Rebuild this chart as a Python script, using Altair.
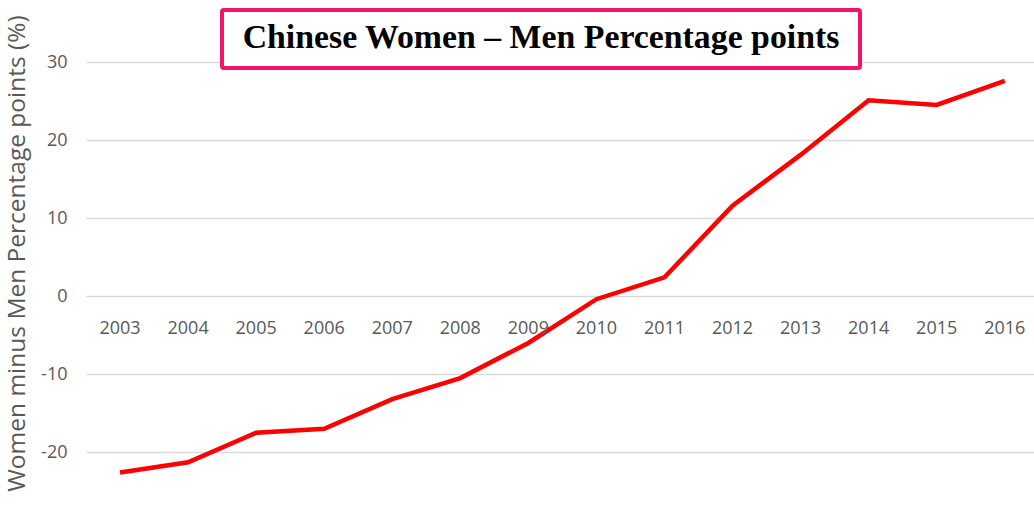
import altair as alt
import pandas as pd

years = [2003, 2004, 2005, 2006, 2007, 2008, 2009, 2010, 2011, 2012, 2013, 2014, 2015, 2016]
gap = [-22.6, -21.3, -17.5, -17.0, -13.2, -10.5, -6.0, -0.4, 2.4, 11.6, 18.1, 25.1, 24.5, 27.6]
y_ticks = [-20, -10, 0, 10, 20, 30]
title_text = "Chinese Women \u2013 Men Percentage points"
y_title = "Women minus Men Percentage points (%)"

df = pd.DataFrame({"year": years, "gap": gap})

W, H = 948, 506
xs = alt.Scale(domain=[2002.5, 2016.43], nice=False, zero=False)
ys = alt.Scale(domain=[-26.9, 37.95], nice=False, zero=False)

grey = "#595959"

yaxis = alt.Axis(values=y_ticks, title=y_title, grid=True, gridColor="#D9D9D9",
                 gridWidth=1.5, domain=False, ticks=False, labelPadding=19,
                 labelExpr="datum.value < 0 ? '-' + abs(datum.value) : '' + datum.value",
                 labelFont="Open Sans", labelFontSize=18, labelColor=grey,
                 titleFont="Open Sans", titleFontSize=24.5, titleFontWeight="normal",
                 titleColor=grey, titlePadding=11)

line = alt.Chart(df).mark_line(color="#FF0000", strokeWidth=4.5, strokeJoin="miter").encode(
    x=alt.X("year:Q", scale=xs, axis=None),
    y=alt.Y("gap:Q", scale=ys, axis=yaxis),
)

labels = alt.Chart(df).mark_text(font="Open Sans", fontSize=18, color=grey, dy=33).encode(
    x=alt.X("year:Q", scale=xs, axis=None),
    y=alt.YDatum(0, scale=ys, axis=yaxis),
    text=alt.Text("year:N"),
)

box = alt.Chart(pd.DataFrame({"t": [title_text]})).mark_rect(
    fill="white", stroke="#F0146A", strokeWidth=4, cornerRadius=2
).encode(x=alt.value(136), x2=alt.value(774), y=alt.value(10), y2=alt.value(68))

title = alt.Chart(pd.DataFrame({"t": [title_text]})).mark_text(
    font="Liberation Serif", fontWeight="bold", fontSize=33.8, color="black",
    align="center", baseline="alphabetic"
).encode(x=alt.value(455), y=alt.value(48), text="t:N")

chart = alt.layer(line, labels, box, title).properties(
    width=W, height=H,
    background="white",
    padding={"left": 86, "top": 0, "right": 0, "bottom": 0},
    autosize=alt.AutoSizeParams(type="none"),
).configure_view(stroke=None)

chart.save("out.html", embed_options={"renderer": "svg", "actions": False})
